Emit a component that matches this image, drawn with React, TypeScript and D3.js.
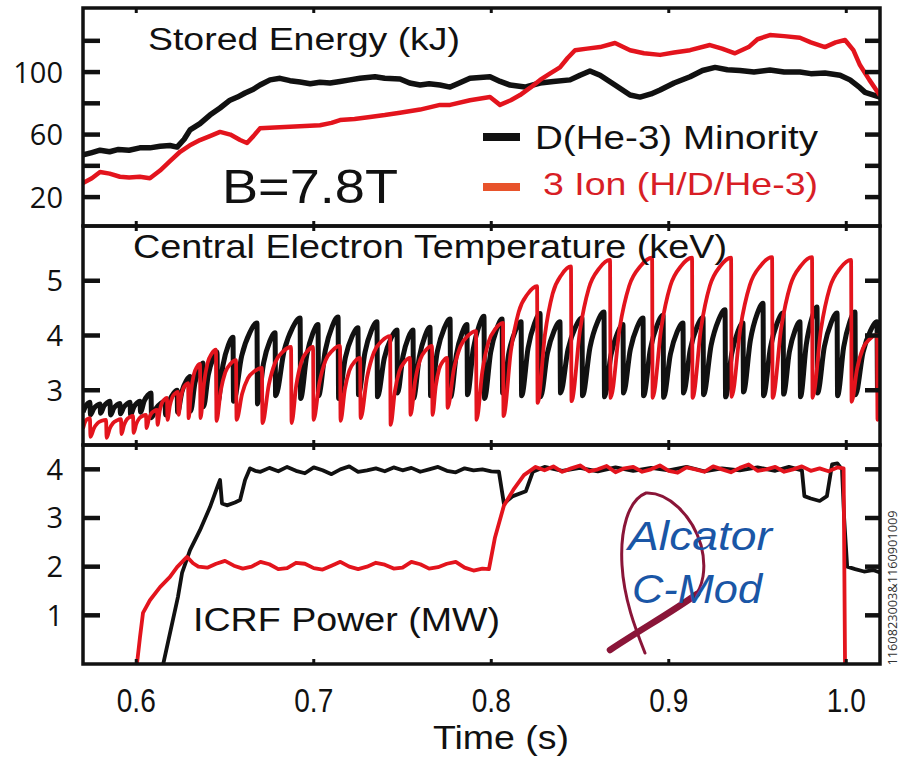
import React from 'react';
import * as d3 from 'd3';

// ---------- axis / tick data ----------
const X_DOMAIN: [number, number] = [0.57, 1.019];
const X_TICKS = [0.6, 0.7, 0.8, 0.9, 1.0];
const X_TICK_LABELS = ['0.6', '0.7', '0.8', '0.9', '1.0'];

const ENERGY_DOMAIN: [number, number] = [1.5, 141];
const ENERGY_TICKS = [20, 40, 60, 80, 100, 120];
const ENERGY_LABELS = [20, 60, 100];

const TE_DOMAIN: [number, number] = [2, 6];
const TE_TICKS = [3, 4, 5];

const POWER_DOMAIN: [number, number] = [0, 4.5];
const POWER_TICKS = [1, 2, 3, 4];

// ---------- stored energy (kJ) ----------
const ENERGY_MINORITY: [number, number][] = [
  [0.570, 47], [0.575, 48.5], [0.5796, 50], [0.585, 49], [0.590, 50.5], [0.596, 50], [0.602, 51.5],
  [0.6077, 51.5], [0.6134, 52.5], [0.619, 53], [0.623, 52], [0.627, 57], [0.6303, 63], [0.6359, 67],
  [0.6415, 72.5], [0.6472, 77], [0.6528, 82], [0.657, 84], [0.6613, 86.6], [0.666, 89], [0.6697, 91.7],
  [0.6754, 95], [0.681, 96], [0.6866, 94.5], [0.6923, 93.6], [0.698, 92.5], [0.7035, 93.5], [0.7092, 93],
  [0.7148, 94], [0.7204, 95], [0.726, 96], [0.7345, 97], [0.740, 96], [0.7486, 95.6], [0.754, 93],
  [0.7599, 91.7], [0.765, 92.5], [0.7711, 91.7], [0.7768, 90.4], [0.782, 93], [0.788, 96], [0.7993, 97],
  [0.805, 94], [0.8106, 91.7], [0.819, 90.4], [0.8275, 93], [0.835, 94], [0.8444, 95], [0.850, 98],
  [0.8556, 100.7], [0.8613, 98], [0.8697, 91.7], [0.8782, 85.3], [0.8838, 84], [0.890, 86], [0.8951, 88.5],
  [0.903, 93], [0.912, 97], [0.919, 101], [0.9261, 103], [0.933, 101.5], [0.9401, 101], [0.948, 100],
  [0.957, 101.3], [0.965, 100], [0.9739, 100], [0.980, 99], [0.988, 99.4], [0.9965, 98], [1.0021, 95],
  [1.0077, 90], [1.0106, 87], [1.019, 84],
];
const ENERGY_THREE_ION: [number, number][] = [
  [0.570, 29], [0.575, 32], [0.5796, 36], [0.585, 35], [0.5908, 33], [0.596, 32.5], [0.602, 33],
  [0.6077, 32], [0.6134, 37], [0.619, 43], [0.6247, 49], [0.630, 53], [0.6359, 56.5], [0.6415, 59],
  [0.6472, 61.7], [0.653, 60], [0.6585, 56.5], [0.6624, 54.6], [0.666, 59], [0.6697, 64], [0.678, 64.5],
  [0.6866, 65], [0.695, 65.5], [0.7035, 66], [0.710, 67.5], [0.7148, 69.3], [0.723, 70], [0.7317, 71.3],
  [0.740, 72.5], [0.7486, 74], [0.7599, 76], [0.7711, 79], [0.7768, 79], [0.788, 82], [0.7993, 84],
  [0.8049, 79], [0.811, 82], [0.8162, 85.3], [0.822, 90], [0.8275, 95], [0.833, 99], [0.8387, 103],
  [0.843, 109], [0.8472, 114], [0.854, 115], [0.8613, 116], [0.8697, 118.6], [0.8782, 114], [0.886, 112],
  [0.8951, 111], [0.903, 112.5], [0.912, 114], [0.9232, 117.3], [0.930, 115], [0.9373, 112], [0.945, 116],
  [0.950, 121], [0.957, 123.7], [0.965, 123], [0.9739, 122], [0.980, 119], [0.988, 116], [0.994, 119],
  [0.9993, 120.5], [1.004, 114], [1.0077, 104.5], [1.013, 95], [1.019, 85],
];

// ---------- central Te sawteeth (keV): crash times, pre-crash peaks, post-crash minima ----------
const TE_MINORITY_START: [number, number] = [0.570, 2.6];
const TE_MINORITY_CRASH = [
  0.5739, 0.5796, 0.5852, 0.5908, 0.5965, 0.6021, 0.6083, 0.6162, 0.6230, 0.6303, 0.6376, 0.6455,
  0.6545, 0.6680, 0.6782, 0.6923, 0.7024, 0.7137, 0.7249, 0.7356, 0.7469, 0.7559, 0.7655, 0.7768,
  0.7863, 0.7959, 0.8061, 0.8168, 0.8275, 0.8387, 0.8511, 0.8635, 0.8742, 0.8855, 0.8968, 0.9080,
  0.9193, 0.9317, 0.9418, 0.9531, 0.9644, 0.9739, 0.9835, 0.9948, 1.0049, 1.0173,
];
const TE_MINORITY_PEAK = [
  2.78, 2.75, 2.8, 2.76, 2.78, 2.8, 2.95, 2.8, 3.0, 3.25, 3.5, 3.7,
  3.97, 4.23, 4.05, 4.32, 4.2, 4.34, 4.14, 4.25, 4.1, 4.1, 4.15, 4.3,
  4.2, 4.35, 4.3, 4.25, 4.4, 4.25, 4.32, 4.43, 4.2, 4.32, 4.37, 4.23,
  4.33, 4.47, 4.23, 4.59, 4.41, 4.25, 4.52, 4.41, 4.43, 4.25,
];
const TE_MINORITY_MIN = [
  2.55, 2.58, 2.55, 2.57, 2.55, 2.6, 2.5, 2.55, 2.6, 2.62, 2.7, 2.75,
  2.8, 2.75, 2.9, 2.85, 2.9, 2.85, 2.92, 2.88, 2.95, 2.85, 2.9, 2.88,
  2.92, 2.85, 2.95, 2.9, 2.88, 2.95, 2.9, 2.88, 2.95, 2.9, 2.87, 2.95,
  2.92, 2.88, 2.97, 2.9, 2.93, 2.88, 2.95, 2.9, 2.92, 3.0,
];
const TE_MINORITY_END: [number, number] = [1.019, 3.15];

const TE_THREE_ION_START: [number, number] = [0.570, 2.3];
const TE_THREE_ION_CRASH = [
  0.5739, 0.5830, 0.5914, 0.5982, 0.6055, 0.6117, 0.6173, 0.6235, 0.6292, 0.6359, 0.6449, 0.6562,
  0.6708, 0.6872, 0.6996, 0.7148, 0.7261, 0.7430, 0.7542, 0.7666, 0.7751, 0.7914, 0.8066, 0.8258,
  0.8449, 0.8669, 0.8906, 0.9131, 0.9351, 0.9582, 0.9807, 1.0027, 1.0173,
];
const TE_THREE_ION_PEAK = [
  2.49, 2.46, 2.47, 2.53, 2.55, 2.64, 2.86, 2.97, 3.13, 3.48, 3.74, 3.55,
  3.41, 3.79, 3.79, 3.81, 3.59, 3.99, 3.59, 3.81, 3.59, 4.08, 4.23, 4.9,
  5.26, 5.38, 5.42, 5.42, 5.42, 5.43, 5.43, 5.38, 4.01,
];
const TE_THREE_ION_MIN = [
  2.15, 2.13, 2.2, 2.22, 2.31, 2.37, 2.46, 2.55, 2.49, 2.49, 2.44, 2.46,
  2.4, 2.4, 2.46, 2.44, 2.49, 2.37, 2.55, 2.55, 2.68, 2.46, 2.53, 2.77,
  2.8, 2.86, 2.86, 2.86, 2.88, 2.86, 2.86, 2.79, 2.46,
];
const TE_THREE_ION_END: [number, number] = [1.019, 2.6];

// ---------- ICRF power (MW) ----------
const POWER_MINORITY: [number, number][] = [
  [0.6152, 0], [0.6235, 1.38], [0.6258, 1.87], [0.6303, 2.34], [0.6359, 2.75], [0.6415, 3.22],
  [0.6461, 3.68], [0.6472, 3.78], [0.6483, 3.3], [0.6511, 3.26], [0.6556, 3.32], [0.6585, 3.37],
  [0.6613, 3.78], [0.6641, 4.02], [0.667, 3.97], [0.670, 3.95], [0.675, 4.03], [0.680, 3.96], [0.685, 4.05],
  [0.690, 3.97], [0.695, 3.92], [0.700, 4.04], [0.705, 3.98], [0.710, 3.9], [0.715, 4.0], [0.720, 4.06],
  [0.725, 3.95], [0.730, 3.98], [0.735, 4.02], [0.740, 3.96], [0.745, 4.04], [0.750, 3.98], [0.755, 4.03],
  [0.760, 3.95], [0.765, 4.0], [0.770, 4.05], [0.775, 3.97], [0.780, 3.94], [0.785, 4.02], [0.790, 3.98],
  [0.795, 4.0], [0.800, 3.96], [0.8043, 3.95], [0.8071, 3.3], [0.8122, 3.45], [0.8195, 3.55], [0.8234, 3.95],
  [0.830, 4.05], [0.840, 3.97], [0.850, 4.03], [0.860, 3.96], [0.870, 4.04], [0.880, 3.97], [0.890, 4.03],
  [0.900, 3.98], [0.910, 4.05], [0.920, 3.96], [0.930, 4.02], [0.940, 3.98], [0.950, 4.04], [0.960, 3.97],
  [0.9677, 4.05], [0.975, 3.98], [0.9764, 3.45], [0.980, 3.4], [0.985, 3.35], [0.9891, 3.45], [0.992, 4.1],
  [0.995, 4.12], [0.9976, 4.0], [0.9988, 3.0], [1.0005, 2.0], [1.005, 1.95], [1.010, 1.9], [1.015, 1.93],
  [1.019, 1.88],
];
const POWER_THREE_ION: [number, number][] = [
  [0.6004, 0], [0.6021, 0.55], [0.6038, 1.05], [0.6077, 1.31], [0.6134, 1.58], [0.619, 1.79],
  [0.623, 1.99], [0.6286, 2.2], [0.632, 2.07], [0.635, 2.0], [0.640, 1.98], [0.645, 2.06], [0.650, 2.12],
  [0.655, 2.02], [0.660, 1.96], [0.665, 2.0], [0.670, 2.1], [0.675, 2.05], [0.680, 1.95], [0.685, 1.97],
  [0.690, 2.08], [0.695, 2.06], [0.700, 1.97], [0.705, 1.94], [0.710, 2.02], [0.715, 2.1], [0.720, 2.0],
  [0.725, 1.95], [0.730, 2.0], [0.735, 2.08], [0.740, 2.04], [0.745, 1.96], [0.750, 1.98], [0.755, 2.1],
  [0.760, 2.05], [0.765, 1.96], [0.770, 1.99], [0.775, 2.06], [0.780, 2.1], [0.785, 1.98], [0.790, 1.92],
  [0.795, 1.96], [0.7987, 1.95], [0.8021, 2.6], [0.8071, 3.25], [0.8128, 3.6], [0.8184, 3.88], [0.825, 4.05],
  [0.830, 3.98], [0.835, 4.06], [0.840, 3.95], [0.845, 4.02], [0.850, 4.08], [0.855, 3.96], [0.860, 4.0],
  [0.865, 4.07], [0.870, 3.94], [0.875, 4.02], [0.880, 4.05], [0.885, 3.95], [0.890, 4.0], [0.895, 4.08],
  [0.900, 3.97], [0.905, 3.93], [0.910, 4.04], [0.915, 4.0], [0.920, 3.95], [0.925, 4.06], [0.930, 4.0],
  [0.935, 3.94], [0.940, 4.03], [0.945, 4.1], [0.950, 3.97], [0.955, 4.0], [0.960, 4.05], [0.965, 3.95],
  [0.970, 4.0], [0.975, 4.06], [0.980, 3.97], [0.985, 4.02], [0.990, 3.96], [0.995, 4.04], [0.9985, 4.02],
  [0.9993, 0],
];

// ---------- layout ----------
const W = 900, H = 757;
const LEFT = 83, RIGHT = 880;
const PANELS = [
  { top: 8, bottom: 226 },
  { top: 226, bottom: 445 },
  { top: 445, bottom: 664 },
];
const BLACK = '#111111';
const RED = '#e3141d';

// rise profile for the sawtooth ramps (fraction of period, fraction of rise)
const RED_RISE: [number, number][] = [[0.22, 0.5], [0.45, 0.8], [0.72, 0.94]];
const BLACK_RISE: [number, number][] = [[0.35, 0.58], [0.7, 0.88]];

function sawPoints(
  start: [number, number], crash: number[], peak: number[], min: number[],
  end: [number, number], rise: [number, number][],
): [number, number][] {
  const pts: [number, number][] = [start];
  let t0 = start[0], v0 = start[1];
  crash.forEach((t1, i) => {
    const p = peak[i];
    rise.forEach(([f, g]) => pts.push([t0 + f * (t1 - t0), v0 + g * (p - v0)]));
    pts.push([t1, p]);
    const tn = t1 + 0.0003;
    pts.push([tn, min[i]]);
    t0 = tn; v0 = min[i];
  });
  pts.push(end);
  return pts;
}

export default function App() {
  const x = d3.scaleLinear().domain(X_DOMAIN).range([LEFT, RIGHT]);
  const yE = d3.scaleLinear().domain(ENERGY_DOMAIN).range([PANELS[0].bottom, PANELS[0].top]);
  const yT = d3.scaleLinear().domain(TE_DOMAIN).range([PANELS[1].bottom, PANELS[1].top]);
  const yP = d3.scaleLinear().domain(POWER_DOMAIN).range([PANELS[2].bottom, PANELS[2].top]);

  const mk = (ys: d3.ScaleLinear<number, number>, curve: d3.CurveFactory = d3.curveLinear) =>
    d3.line<[number, number]>().x((d) => x(d[0])).y((d) => ys(d[1])).curve(curve);

  const teMin = sawPoints(TE_MINORITY_START, TE_MINORITY_CRASH, TE_MINORITY_PEAK, TE_MINORITY_MIN, TE_MINORITY_END, BLACK_RISE);
  const teRed = sawPoints(TE_THREE_ION_START, TE_THREE_ION_CRASH, TE_THREE_ION_PEAK, TE_THREE_ION_MIN, TE_THREE_ION_END, RED_RISE);

  const sans = "'Liberation Sans', Arial, Helvetica, sans-serif";
  const tickFont = "'Open Sans', 'Liberation Sans', sans-serif";

  const yTicks = (
    ys: d3.ScaleLinear<number, number>, ticks: number[], labels: number[],
  ) => (
    <g>
      {ticks.map((t) => (
        <g key={t}>
          <line x1={LEFT} x2={LEFT + 17} y1={ys(t)} y2={ys(t)} stroke={BLACK} strokeWidth={4.5} />
          <line x1={RIGHT - 15} x2={RIGHT} y1={ys(t)} y2={ys(t)} stroke={BLACK} strokeWidth={4.5} />
        </g>
      ))}
      {labels.map((t) => (
        <text key={'l' + t} x={63} y={ys(t)} dy="0.36em" textAnchor="end" fontFamily={tickFont}
          fontSize={29} fill={BLACK}>{t}</text>
      ))}
    </g>
  );

  return (
    <svg width={W} height={H} viewBox={`0 0 ${W} ${H}`}
      style={{ position: 'absolute', left: 0, top: 0, background: '#fff' }}>
      <defs>
        {PANELS.map((p, i) => (
          <clipPath id={`clip${i}`} key={i}>
            <rect x={LEFT} y={p.top} width={RIGHT - LEFT} height={p.bottom - p.top} />
          </clipPath>
        ))}
      </defs>
      <rect x={0} y={0} width={W} height={H} fill="#fff" />

      {/* ---------- panel 1: stored energy ---------- */}
      <g clipPath="url(#clip0)">
        <path d={mk(yE)(ENERGY_MINORITY) || ''} fill="none" stroke={BLACK} strokeWidth={5.5} strokeLinejoin="round" />
        <path d={mk(yE)(ENERGY_THREE_ION) || ''} fill="none" stroke={RED} strokeWidth={4.5} strokeLinejoin="round" />
      </g>
      <text x={148} y={50} fontFamily={sans} fontSize={31} fill={BLACK} textLength={312}
        lengthAdjust="spacingAndGlyphs">Stored Energy (kJ)</text>
      <text x={222} y={203} fontFamily={sans} fontSize={49} fill={BLACK} textLength={176}
        lengthAdjust="spacingAndGlyphs">B=7.8T</text>
      <rect x={483} y={133} width={37} height={8} fill={BLACK} />
      <text x={535} y={149} fontFamily={sans} fontSize={33} fill={BLACK} textLength={283}
        lengthAdjust="spacingAndGlyphs">D(He-3) Minority</text>
      <rect x={483} y={183} width={37} height={8} fill="#e8532b" />
      <text x={543} y={195} fontFamily={sans} fontSize={32} fill="#d81e26" textLength={275}
        lengthAdjust="spacingAndGlyphs">3 Ion (H/D/He-3)</text>
      {yTicks(yE, ENERGY_TICKS, ENERGY_LABELS)}

      {/* ---------- panel 2: central Te ---------- */}
      <g clipPath="url(#clip1)">
        <path d={mk(yT, d3.curveMonotoneX)(teMin) || ''} fill="none" stroke={BLACK} strokeWidth={5} strokeLinejoin="round" />
        <path d={mk(yT, d3.curveMonotoneX)(teRed) || ''} fill="none" stroke={RED} strokeWidth={3.8} strokeLinejoin="round" />
      </g>
      <text x={133} y={258} fontFamily={sans} fontSize={33} fill={BLACK} textLength={594}
        lengthAdjust="spacingAndGlyphs">Central Electron Temperature (keV)</text>
      {yTicks(yT, TE_TICKS, TE_TICKS)}

      {/* ---------- panel 3: ICRF power ---------- */}
      <g clipPath="url(#clip2)">
        <path d={mk(yP)(POWER_MINORITY) || ''} fill="none" stroke={BLACK} strokeWidth={3.8} strokeLinejoin="round" />
        <path d={mk(yP)(POWER_THREE_ION) || ''} fill="none" stroke={RED} strokeWidth={3.8} strokeLinejoin="round" />
      </g>
      <text x={193} y={631} fontFamily={sans} fontSize={34} fill={BLACK} textLength={307}
        lengthAdjust="spacingAndGlyphs">ICRF Power (MW)</text>
      {yTicks(yP, POWER_TICKS, POWER_TICKS)}

      {/* logo */}
      <path d="M 645 653 C 636 630, 624 600, 622 565 C 620 530, 628 500, 646 493 C 668 492, 692 515, 701 545 C 707 568, 703 588, 693 598"
        fill="none" stroke="#8a1538" strokeWidth={3} strokeLinecap="round" />
      <path d="M 697 594 C 672 612, 640 630, 610 650" fill="none" stroke="#8a1538" strokeWidth={6.5} strokeLinecap="round" />
      <text x={628} y={550} fontFamily={sans} fontStyle="italic" fontSize={41} fill="#1a56a6" textLength={144}
        lengthAdjust="spacingAndGlyphs">Alcator</text>
      <text x={632} y={603} fontFamily={sans} fontStyle="italic" fontSize={41} fill="#1a56a6" textLength={130}
        lengthAdjust="spacingAndGlyphs">C-Mod</text>

      {/* panel frames and x ticks */}
      {PANELS.map((p, i) => (
        <g key={i}>
          {X_TICKS.map((t) => (
            <g key={t}>
              <line x1={x(t)} x2={x(t)} y1={p.top} y2={p.top + 5} stroke={BLACK} strokeWidth={3} />
              <line x1={x(t)} x2={x(t)} y1={p.bottom} y2={p.bottom - 5} stroke={BLACK} strokeWidth={3} />
            </g>
          ))}
          <rect x={LEFT} y={p.top} width={RIGHT - LEFT} height={p.bottom - p.top} fill="none"
            stroke={BLACK} strokeWidth={3.5} />
        </g>
      ))}

      {/* x axis labels */}
      {X_TICK_LABELS.map((lab, i) => (
        <text key={lab} x={x(X_TICKS[i])} y={712} textAnchor="middle" fontFamily={sans} fontSize={34} fill={BLACK}
          textLength={39} lengthAdjust="spacingAndGlyphs">{lab}</text>
      ))}
      <text x={501} y={749} textAnchor="middle" fontFamily={sans} fontSize={34} fill={BLACK}
        textLength={136} lengthAdjust="spacingAndGlyphs">Time (s)</text>

      {/* shot-number watermark */}
      <text transform="translate(897,588) rotate(-90)" textAnchor="middle" fontFamily={tickFont}
        fontSize={12} fill="#333" textLength={155} lengthAdjust="spacingAndGlyphs">1160823003&amp;1160901009</text>
    </svg>
  );
}
